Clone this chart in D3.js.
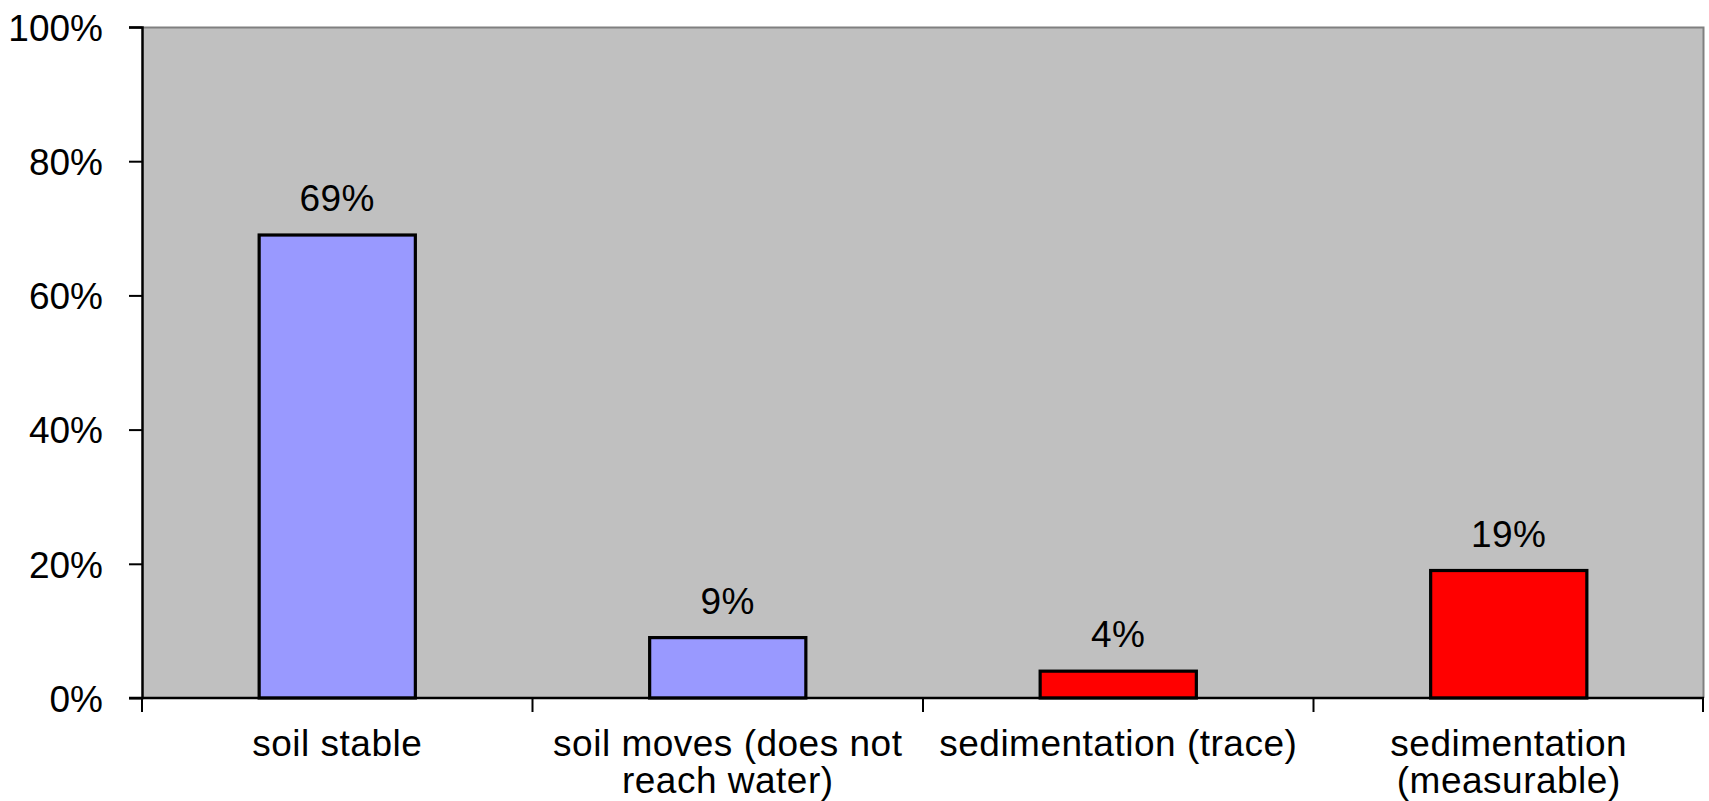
<!DOCTYPE html>
<html>
<head>
<meta charset="utf-8">
<script src="https://cdn.jsdelivr.net/npm/d3@7"></script>
<style>
  html, body { margin: 0; padding: 0; background: #ffffff; }
  svg { display: block; }
  text { font-family: "Liberation Sans", Arial, sans-serif; fill: #000; }
</style>
</head>
<body>
<svg id="chart" width="1709" height="801"></svg>
<script>
// Share of observed sites by soil outcome
const categories = [
  "soil stable",
  "soil moves (does not reach water)",
  "sedimentation (trace)",
  "sedimentation (measurable)"
];
// Line breaks used for the category labels under the axis
const categoryLines = [
  ["soil stable"],
  ["soil moves (does not", "reach water)"],
  ["sedimentation (trace)"],
  ["sedimentation", "(measurable)"]
];
const values = [69, 9, 4, 19];
const barColors = ["#9999ff", "#9999ff", "#ff0000", "#ff0000"];
const yTicks = [0, 20, 40, 60, 80, 100];

const svg = d3.select("#chart");
const margin = { left: 142, right: 5, top: 27, bottom: 103 };
const W = 1709, H = 801;
const innerW = W - margin.left - margin.right;
const innerH = H - margin.top - margin.bottom;
const fontSize = 37;

const g = svg.append("g").attr("transform", `translate(${margin.left},${margin.top})`);

const x = d3.scaleBand().domain(categories).range([0, innerW]).paddingInner(0.6).paddingOuter(0.3);
const xOuter = d3.scaleBand().domain(categories).range([0, innerW]);
const y = d3.scaleLinear().domain([0, 100]).range([innerH, 0]);

// Plot area
g.append("rect")
  .attr("x", 0).attr("y", 0)
  .attr("width", innerW).attr("height", innerH)
  .attr("fill", "#c0c0c0");
// Top and right frame
g.append("path")
  .attr("d", `M0,0.5H${innerW - 0.5}V${innerH}`)
  .attr("fill", "none")
  .attr("stroke", "#808080")
  .attr("stroke-width", 2);

// Bars
g.selectAll("rect.bar")
  .data(values)
  .join("rect")
  .attr("class", "bar")
  .attr("x", (d, i) => x(categories[i]))
  .attr("y", d => y(d))
  .attr("width", x.bandwidth())
  .attr("height", d => y(0) - y(d))
  .attr("fill", (d, i) => barColors[i])
  .attr("stroke", "#000")
  .attr("stroke-width", 3.2);

// Value labels
g.selectAll("text.val")
  .data(values)
  .join("text")
  .attr("class", "val")
  .attr("x", (d, i) => x(categories[i]) + x.bandwidth() / 2)
  .attr("y", d => y(d) - 24)
  .attr("text-anchor", "middle")
  .style("font-size", fontSize + "px")
  .style("letter-spacing", "0.5px")
  .text(d => d + "%");

// Y axis
const yAxis = g.append("g")
  .call(d3.axisLeft(y).tickValues(yTicks).tickFormat(d => d + "%").tickSize(13).tickPadding(26));
yAxis.select(".domain").attr("stroke", "#000").attr("stroke-width", 2.5).attr("d", `M-13,0.5H0.5V${innerH}H-13`);
yAxis.selectAll(".tick line").attr("stroke", "#000").attr("stroke-width", 2);
yAxis.selectAll(".tick text")
  .style("font-size", fontSize + "px")
  .attr("dy", "0.36em")
  .attr("font-family", null);

// X axis: ticks at category boundaries
const xAxisG = g.append("g").attr("transform", `translate(0,${innerH})`);
xAxisG.append("line")
  .attr("x1", 0).attr("x2", innerW)
  .attr("stroke", "#000").attr("stroke-width", 2.5);
const boundaries = categories.map(c => xOuter(c)).concat([innerW]);
xAxisG.selectAll("line.tick")
  .data(boundaries)
  .join("line")
  .attr("class", "tick")
  .attr("x1", d => Math.min(d, innerW - 1)).attr("x2", d => Math.min(d, innerW - 1))
  .attr("y1", 0).attr("y2", 14)
  .attr("stroke", "#000").attr("stroke-width", 2);

// Category labels
const labels = xAxisG.selectAll("text.cat")
  .data(categoryLines)
  .join("text")
  .attr("class", "cat")
  .attr("text-anchor", "middle")
  .attr("transform", (d, i) => `translate(${xOuter(categories[i]) + xOuter.bandwidth() / 2},58)`)
  .style("font-size", fontSize + "px")
  .style("letter-spacing", "0.5px");
labels.selectAll("tspan")
  .data(d => d)
  .join("tspan")
  .attr("x", 0)
  .attr("dy", (d, j) => j === 0 ? 0 : 37)
  .text(d => d);
</script>
</body>
</html>
